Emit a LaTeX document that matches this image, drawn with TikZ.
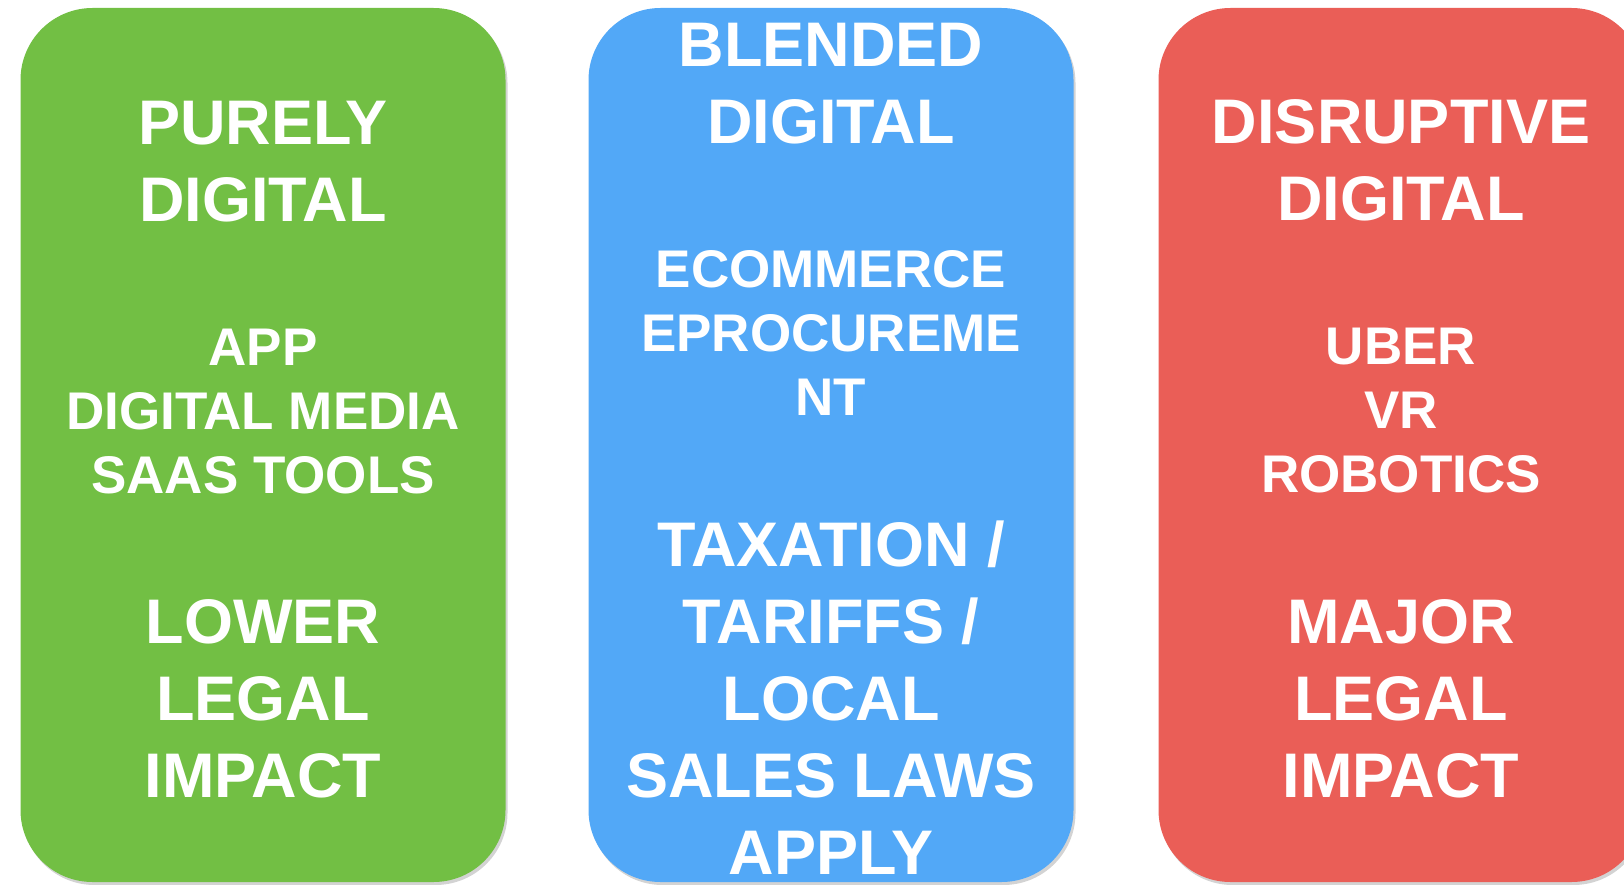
\documentclass[tikz,border=0pt]{standalone}
\usepackage{fontspec}
\setmainfont{Liberation Sans}
\usetikzlibrary{shadows}
\definecolor{pgreen}{RGB}{114,191,68}
\definecolor{bblue}{RGB}{82,168,247}
\definecolor{dred}{RGB}{234,94,87}
\tikzset{
  panel/.style={rectangle,rounded corners=72pt,minimum width=485pt,minimum height=874pt,inner sep=0pt,
    drop shadow={shadow xshift=2pt,shadow yshift=-3pt,opacity=0.35}},
  bigtxt/.style={text=white,align=center,anchor=base,inner sep=0pt,font=\bfseries\fontsize{63}{77}\selectfont},
  midtxt/.style={text=white,align=center,anchor=base,inner sep=0pt,font=\bfseries\fontsize{53}{64}\selectfont}
}

\begin{document}
\begin{tikzpicture}[x=1pt,y=-1pt]
\clip (0,0) rectangle (1624,885);

\draw (263,445) node[panel,fill=pgreen] (pure) {};
\draw (831,445) node[panel,fill=bblue] (blend) {};
\draw (1401,445) node[panel,fill=dred] (disrupt) {};

% purely digital (placed at last baseline)
\draw (263,222) node[bigtxt] (pureT) {PURELY\\DIGITAL};
\draw (263,493) node[midtxt] (pureM) {APP\\DIGITAL MEDIA\\SAAS TOOLS};
\draw (263,797) node[bigtxt] (pureB) {LOWER\\LEGAL\\IMPACT};

% blended digital
\draw (831,144) node[bigtxt] (blendT) {BLENDED\\DIGITAL};
\draw (831,415) node[midtxt] (blendM) {ECOMMERCE\\EPROCUREME\\NT};
\draw (831,874) node[bigtxt] (blendB) {TAXATION /\\TARIFFS /\\LOCAL\\SALES LAWS\\APPLY};

% disruptive digital
\draw (1401,221) node[bigtxt] (disruptT) {DISRUPTIVE\\DIGITAL};
\draw (1401,492) node[midtxt] (disruptM) {UBER\\VR\\ROBOTICS};
\draw (1401,797) node[bigtxt] (disruptB) {MAJOR\\LEGAL\\IMPACT};
\end{tikzpicture}
\end{document}
